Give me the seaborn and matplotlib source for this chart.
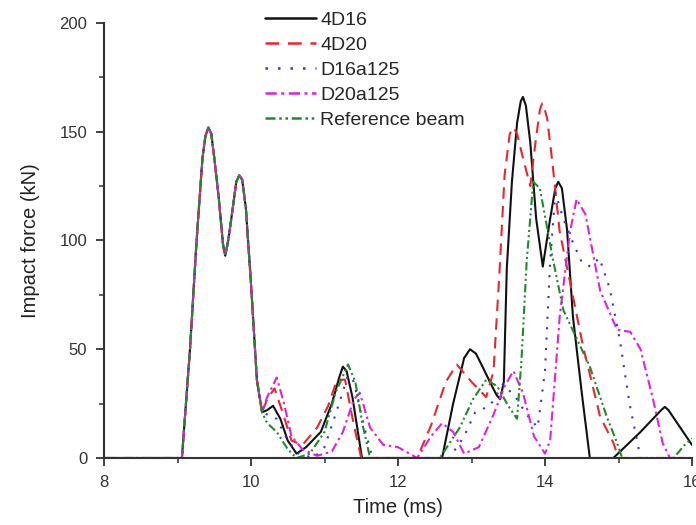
import numpy as np
import pandas as pd
import matplotlib
matplotlib.use("Agg")
import matplotlib.pyplot as plt
import seaborn as sns
from matplotlib.ticker import MultipleLocator

# ---- data ----
common_t = [8.0, 9.06, 9.17, 9.26, 9.34, 9.38, 9.42, 9.46, 9.50, 9.56, 9.62, 9.65, 9.69, 9.74, 9.80, 9.84,
            9.88, 9.93, 10.00, 10.08, 10.15]
common_f = [0, 0, 50, 100, 138, 148, 152, 149, 138, 120, 98, 93, 100, 112, 127, 130,
            128, 115, 80, 36, 21]

t_4d16 = [10.22, 10.30, 10.40, 10.50, 10.62, 10.75, 10.95, 11.10, 11.20, 11.25, 11.30, 11.38, 11.51, 12.60,
          12.75, 12.90, 12.98, 13.06, 13.15, 13.25, 13.34, 13.39, 13.44, 13.48, 13.55, 13.62, 13.67, 13.70,
          13.74, 13.80, 13.88, 13.97, 14.07, 14.14, 14.18, 14.23, 14.30, 14.38, 14.50, 14.61, 14.93, 15.30,
          15.58, 15.63, 15.68, 15.80, 16.00]
f_4d16 = [22, 24, 18, 8, 2, 5, 12, 25, 37, 42, 40, 28, 0, 0,
          25, 46, 50, 48, 42, 35, 29, 27, 35, 87, 127, 154, 164, 166,
          162, 145, 110, 88, 110, 124, 127, 124, 105, 65, 30, 0, 0, 12,
          22, 23.5, 22, 16, 6]

t_4d20 = [10.22, 10.32, 10.42, 10.55, 10.70, 10.90, 11.05, 11.17, 11.28, 11.40, 11.50, 12.26, 12.45, 12.65,
          12.80, 13.00, 13.20, 13.30, 13.38, 13.45, 13.52, 13.57, 13.62, 13.70, 13.80, 13.87, 13.93, 13.96,
          13.99, 14.03, 14.10, 14.20, 14.34, 14.52, 14.75, 14.93, 15.00, 16.00]
f_4d20 = [27, 32, 22, 8, 6, 14, 24, 36, 36, 15, 0, 0, 15, 35,
          43, 35, 28, 40, 85, 130, 149, 152, 149, 138, 125, 145, 160, 163,
          161, 156, 136, 104, 81, 51, 19, 7, 0, 0]

t_d16 = [10.22, 10.35, 10.50, 10.65, 10.85, 11.00, 11.15, 11.32, 11.40, 11.50, 11.65, 12.70, 12.90, 13.05,
         13.25, 13.43, 13.60, 13.75, 13.90, 14.00, 14.07, 14.14, 14.25, 14.38, 14.50, 14.62, 14.74, 14.88,
         15.02, 15.15, 15.30, 16.00]
f_d16 = [20, 18, 8, 2, 0, 5, 20, 38, 35, 20, 0, 0, 10, 21,
         24, 34, 28, 20, 14, 40, 90, 122, 110, 99, 90, 88, 92, 78,
         54, 25, 0, 0]

t_d20 = [10.22, 10.35, 10.45, 10.55, 10.70, 10.90, 11.10, 11.25, 11.40, 11.48, 11.62, 11.80, 12.00, 12.26,
         12.45, 12.60, 12.75, 12.90, 13.10, 13.30, 13.45, 13.57, 13.70, 13.85, 14.00, 14.07, 14.20, 14.34,
         14.43, 14.55, 14.75, 14.98, 15.16, 15.30, 15.47, 15.60, 15.70, 16.00]
f_d20 = [28, 37, 25, 10, 4, 1, 3, 12, 27, 30, 14, 6, 5, 0,
         10, 16, 12, 2, 5, 20, 33, 40, 30, 10, 2, 8, 65, 104,
         119, 112, 77, 59, 58, 50, 27, 7, 0, 0]

t_ref = [10.22, 10.35, 10.50, 10.62, 10.80, 11.00, 11.15, 11.32, 11.42, 11.52, 11.62, 12.57, 12.84, 13.02,
         13.20, 13.35, 13.50, 13.62, 13.68, 13.75, 13.84, 13.93, 14.11, 14.25, 14.43, 14.61, 14.84, 14.98,
         15.05, 15.75, 15.90, 16.00]
f_ref = [16, 12, 4, 0, 2, 12, 30, 43, 35, 15, 0, 0, 14, 27,
         36, 33, 24, 18, 45, 90, 127, 124, 91, 68, 55, 42, 19, 7,
         0, 0, 6, 9]

series_names = ["4D16", "4D20", "D16a125", "D20a125", "Reference beam"]
series_t = [t_4d16, t_4d20, t_d16, t_d20, t_ref]
series_f = [f_4d16, f_4d20, f_d16, f_d20, f_ref]

x_ticks = [8, 10, 12, 14, 16]
y_ticks = [0, 50, 100, 150, 200]

# ---- build long table ----
frames = []
for name, tt, ff in zip(series_names, series_t, series_f):
    frames.append(pd.DataFrame({"Time": common_t + tt, "Force": common_f + ff, "Series": name}))
df = pd.concat(frames, ignore_index=True)

sns.set_style("ticks")
plt.rcParams["font.family"] = ["Liberation Sans", "DejaVu Sans"]

fig = plt.figure(figsize=(6.96, 5.25), dpi=100)
ax = fig.add_axes([104 / 696, 1 - 458 / 525, (692 - 104) / 696, (458 - 23) / 525])

palette = {"4D16": "#111111", "4D20": "#e8262f", "D16a125": "#3333c8",
           "D20a125": "#e020e0", "Reference beam": "#1f8a2a"}
dashes = {"4D16": "", "4D20": (5.5, 3.5), "D16a125": (1, 4),
          "D20a125": (4.5, 1.8, 1.2, 1.8), "Reference beam": (4, 1.5, 1, 1.5, 1, 1.5)}

sns.lineplot(data=df, x="Time", y="Force", hue="Series", style="Series",
             hue_order=series_names, style_order=series_names,
             palette=palette, dashes=dashes, estimator=None, sort=False,
             linewidth=1.5, ax=ax)

ax.set_xlim(8, 16)
ax.set_ylim(0, 200)
ax.set_xticks(x_ticks)
ax.set_yticks(y_ticks)
ax.xaxis.set_minor_locator(MultipleLocator(1))
ax.yaxis.set_minor_locator(MultipleLocator(25))
ax.tick_params(which="major", direction="out", length=6, width=1.3, colors="#333333",
               labelsize=12, labelcolor="#333333", pad=6)
ax.tick_params(which="minor", direction="out", length=3.5, width=1.1, colors="#333333")
for side in ["top", "right"]:
    ax.spines[side].set_visible(False)
for side in ["left", "bottom"]:
    ax.spines[side].set_linewidth(1.5)
    ax.spines[side].set_color("#333333")

ax.set_xlabel("Time (ms)", fontsize=14.5, color="#222222", labelpad=6)
ax.set_ylabel("Impact force (kN)", fontsize=14.5, color="#222222", labelpad=14)

leg = ax.legend(loc="upper left", bbox_to_anchor=(265 / 696, 1 - 11 / 525),
                bbox_transform=fig.transFigure, frameon=False, fontsize=14,
                handlelength=2.6, handletextpad=0.25, labelspacing=0.38, borderpad=0,
                borderaxespad=0)
for line in leg.get_lines():
    line.set_linewidth(1.8)

fig.savefig("out.png", dpi=100)
